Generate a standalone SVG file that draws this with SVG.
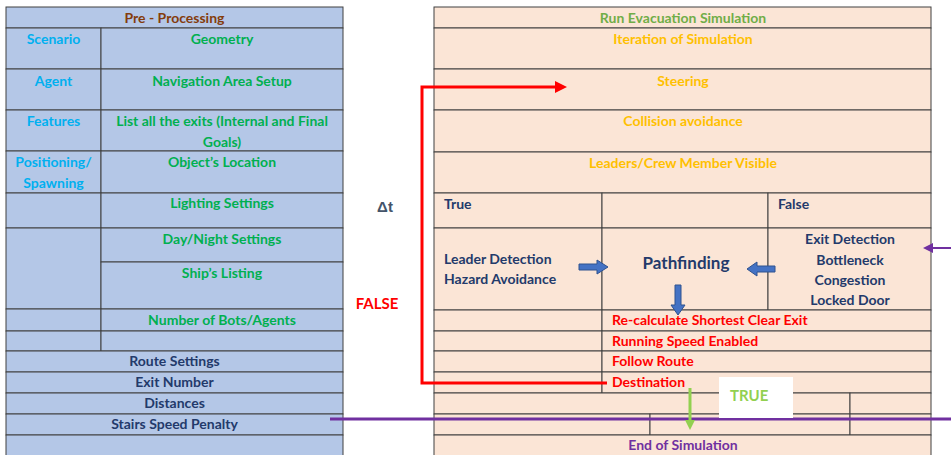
<svg xmlns="http://www.w3.org/2000/svg" width="951" height="455" viewBox="0 0 951 455">
<style>
text{font-family:Lato,"Open Sans","Liberation Sans",sans-serif;font-weight:bold;font-size:14px}
.c{text-anchor:middle}
.big{font-size:17px}
.mid{font-size:15px}
.lb rect{fill:#b4c7e7;stroke:#404040;stroke-width:1}
.rt rect{fill:#fbe5d6;stroke:#404040;stroke-width:1}
.brown{fill:#843c0c}.cyan{fill:#00b0f0}.green{fill:#00b050}.navy{fill:#233a6b}
.lgreen{fill:#70ad47}.orange{fill:#ffc000}.red{fill:#ff0000}.purple{fill:#7030a0}
.blk{fill:#4472c4;stroke:#2f528f;stroke-width:1}
</style>
<defs>
<marker id="ahRed" markerUnits="userSpaceOnUse" markerWidth="13" markerHeight="13" refX="0" refY="6" orient="auto"><path d="M0,0 L12,6 L0,12 z" fill="#ff0000"/></marker>
<marker id="ahGreen" markerUnits="userSpaceOnUse" markerWidth="12" markerHeight="12" refX="0" refY="5" orient="auto"><path d="M0,0 L10,5 L0,10 z" fill="#92d050"/></marker>
<marker id="ahPurple" markerUnits="userSpaceOnUse" markerWidth="12" markerHeight="12" refX="0" refY="5" orient="auto"><path d="M0,0 L10,5 L0,10 z" fill="#7030a0"/></marker>
</defs>
<rect width="951" height="455" fill="#ffffff"/>

<g class="lb">
<g id="pre"><rect x="6" y="7" width="337" height="21"/><text class="c brown" x="174.5" y="23">Pre - Processing</text></g>
<g id="scenario"><rect x="6" y="28" width="95" height="41"/><text class="c cyan" x="53.5" y="44">Scenario</text></g>
<g id="geometry"><rect x="101" y="28" width="242" height="41"/><text class="c green" x="222" y="44">Geometry</text></g>
<g id="agent"><rect x="6" y="69" width="95" height="41"/><text class="c cyan" x="53.5" y="86">Agent</text></g>
<g id="navigation"><rect x="101" y="69" width="242" height="41"/><text class="c green" x="222" y="86">Navigation Area Setup</text></g>
<g id="features"><rect x="6" y="110" width="95" height="41"/><text class="c cyan" x="53.5" y="126">Features</text></g>
<g id="exits"><rect x="101" y="110" width="242" height="41"/><text class="c green" x="222" y="126">List all the exits (Internal and Final</text><text class="c green" x="222" y="147">Goals)</text></g>
<g id="positioning"><rect x="6" y="151" width="95" height="42"/><text class="c cyan" x="53.5" y="167">Positioning/</text><text class="c cyan" x="53.5" y="188">Spawning</text></g>
<g id="object"><rect x="101" y="151" width="242" height="42"/><text class="c green" x="222" y="167">Object’s Location</text></g>
<g id="left-blank1"><rect x="6" y="193" width="95" height="35"/></g>
<g id="lighting"><rect x="101" y="193" width="242" height="35"/><text class="c green" x="222" y="208">Lighting Settings</text></g>
<g id="left-blank2"><rect x="6" y="228" width="95" height="81"/></g>
<g id="daynight"><rect x="101" y="228" width="242" height="34"/><text class="c green" x="222" y="244">Day/Night Settings</text></g>
<g id="listing"><rect x="101" y="262" width="242" height="47"/><text class="c green" x="222" y="278">Ship’s Listing</text></g>
<g id="left-blank3"><rect x="6" y="309" width="95" height="22"/></g>
<g id="bots"><rect x="101" y="309" width="242" height="22"/><text class="c green" x="222" y="325">Number of Bots/Agents</text></g>
<g id="left-blank4"><rect x="6" y="331" width="95" height="20"/><rect x="101" y="331" width="242" height="20"/></g>
<g id="route"><rect x="6" y="351" width="337" height="21"/><text class="c navy" x="174.5" y="366">Route Settings</text></g>
<g id="exitnum"><rect x="6" y="372" width="337" height="21"/><text class="c navy" x="174.5" y="387">Exit Number</text></g>
<g id="distances"><rect x="6" y="393" width="337" height="21"/><text class="c navy" x="174.5" y="408">Distances</text></g>
<g id="stairs"><rect x="6" y="414" width="337" height="21"/><text class="c navy" x="174.5" y="429">Stairs Speed Penalty</text></g>
<g id="left-blank5"><rect x="6" y="435" width="337" height="25"/></g>
</g>

<g id="dt"><text class="c" x="385" y="212" fill="#44546a" style="font-family:'Liberation Sans',sans-serif;font-size:15px">Δt</text></g>
<g id="false-label"><text class="c red mid" x="377" y="309">FALSE</text></g>

<g class="rt">
<g id="run"><rect x="434" y="7" width="497" height="21"/><text class="c lgreen" x="683" y="23">Run Evacuation Simulation</text></g>
<g id="iteration"><rect x="434" y="28" width="497" height="41"/><text class="c orange" x="683" y="44">Iteration of Simulation</text></g>
<g id="steering"><rect x="434" y="69" width="497" height="41"/><text class="c orange" x="683" y="86">Steering</text></g>
<g id="collision"><rect x="434" y="110" width="497" height="42"/><text class="c orange" x="683" y="126">Collision avoidance</text></g>
<g id="leaders"><rect x="434" y="152" width="497" height="41"/><text class="c orange" x="683" y="168">Leaders/Crew Member Visible</text></g>
<g id="true-cell"><rect x="434" y="193" width="168" height="35"/><text class="navy" x="444" y="209">True</text></g>
<g id="mid-cell"><rect x="602" y="193" width="166" height="35"/></g>
<g id="false-cell"><rect x="768" y="193" width="163" height="35"/><text class="navy" x="778" y="209">False</text></g>
<g id="leader-detection"><rect x="434" y="228" width="168" height="82"/><text class="navy" x="444" y="264">Leader Detection</text><text class="navy" x="444" y="284">Hazard Avoidance</text></g>
<g id="pathfinding"><rect x="602" y="228" width="166" height="82"/><text class="c navy big" x="686" y="269">Pathfinding</text></g>
<g id="exit-detection"><rect x="768" y="228" width="163" height="82"/><text class="c navy" x="850" y="244">Exit Detection</text><text class="c navy" x="850" y="265">Bottleneck</text><text class="c navy" x="850" y="285">Congestion</text><text class="c navy" x="850" y="305">Locked Door</text></g>
<g id="r-blank1"><rect x="434" y="310" width="168" height="21"/></g>
<g id="recalc"><rect x="602" y="310" width="329" height="21"/><text class="red" x="612" y="325">Re-calculate Shortest Clear Exit</text></g>
<g id="r-blank2"><rect x="434" y="331" width="168" height="20"/></g>
<g id="running"><rect x="602" y="331" width="329" height="20"/><text class="red" x="612" y="346">Running Speed Enabled</text></g>
<g id="r-blank3"><rect x="434" y="351" width="168" height="21"/></g>
<g id="follow"><rect x="602" y="351" width="329" height="21"/><text class="red" x="612" y="366">Follow Route</text></g>
<g id="r-blank4"><rect x="434" y="372" width="168" height="21"/></g>
<g id="destination"><rect x="602" y="372" width="329" height="21"/><text class="red" x="612" y="387">Destination</text></g>
<g id="r-blank5"><rect x="434" y="393" width="416" height="21"/><rect x="850" y="393" width="81" height="21"/><rect x="434" y="414" width="216" height="21"/><rect x="650" y="414" width="200" height="21"/><rect x="850" y="414" width="81" height="21"/></g>
<g id="end"><rect x="434" y="435" width="497" height="25"/><text class="c purple" x="683" y="450">End of Simulation</text></g>
</g>

<g id="connectors">
<path d="M607,383 H422 V87 H555" fill="none" stroke="#ff0000" stroke-width="3" marker-end="url(#ahRed)"/>
<line x1="330" y1="419" x2="951" y2="419" stroke="#7030a0" stroke-width="3"/>
<line x1="951" y1="248" x2="933" y2="248" stroke="#7030a0" stroke-width="2" marker-end="url(#ahPurple)"/>
<path class="blk" d="M579,264 H597 V260 L608,267 L597,274 V270 H579 Z"/>
<path class="blk" d="M775,266 H757 V262 L747,269 L757,276 V272 H775 Z"/>
<path class="blk" d="M675,285 V305 H671 L678,315 L685,305 H681 V285 Z"/>
</g>

<g id="true-label"><rect x="719" y="377" width="74" height="41" fill="#ffffff"/><text class="mid" x="730" y="401" fill="#92d050">TRUE</text></g>

<g id="green-arrow"><line x1="690" y1="388" x2="690" y2="420" stroke="#92d050" stroke-width="3" marker-end="url(#ahGreen)"/></g>
</svg>
